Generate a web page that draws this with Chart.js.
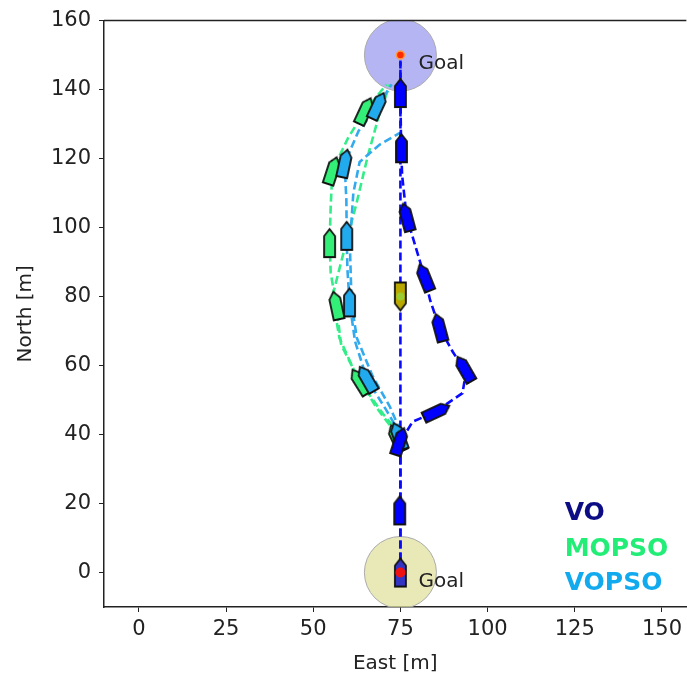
<!DOCTYPE html>
<html>
<head>
<meta charset="utf-8">
<script src="https://cdn.jsdelivr.net/npm/chart.js@4/dist/chart.umd.min.js"></script>
<style>
  html, body { margin: 0; padding: 0; background: #fff; }
  #wrap { width: 687px; height: 680px; }
</style>
</head>
<body>
<div id="wrap"><canvas id="c" width="687" height="680"></canvas></div>
<script>
// axis ticks
const xTicks = [0, 25, 50, 75, 100, 125, 150];
const yTicks = [0, 20, 40, 60, 80, 100, 120, 140, 160];

// goals [x, y]
const goalTop = [75, 150];
const goalBottom = [75, 0];

// trajectories [east, north]
const obstaclePath = [[75, 0], [75, 150]];
const voPath = [[75, 0], [75, 18], [75, 38], [78.5, 43.7], [85, 46.6], [92.8, 52], [93.8, 58],
  [90, 64], [86.2, 71], [83.5, 79], [82, 85.5], [78, 99], [76.8, 103], [75.5, 115], [75.2, 123], [75, 139], [75, 148]];
const mopsoPath = [[75, 40], [70, 46], [63.4, 55.3], [58, 66], [56.6, 77.4], [55, 87], [54.7, 95.5],
  [55, 106], [55.5, 116.5], [60, 126], [64.8, 133.8], [71, 141.5]];
const mopsoPath2 = [[74, 40], [68, 48], [62, 58], [57.5, 68], [55.5, 80], [58, 90], [62.4, 107],
  [65.6, 120.6], [69, 133], [72, 141.5]];
const vopsoPath = [[75, 40], [71, 47], [65.4, 56.1], [62, 67], [60.4, 78.3], [59.8, 88], [59.6, 97.6],
  [59.5, 108], [59, 118.6], [63, 128], [68.5, 135.3], [72.5, 141.5]];
const vopsoPath2 = [[75, 41], [72, 48], [67, 57], [62.5, 68], [61, 78], [60.5, 95], [61.5, 110],
  [63.3, 119], [69, 124], [75, 127.5]];

// ships [east, north, heading deg]
const voShips = [[75, 139, 0], [75.3, 123, 0], [76.8, 103, -15], [82, 85.5, -22], [86.2, 71, -15],
  [93.4, 59, -30], [85.4, 46.6, 65], [74.8, 38, 18], [74.8, 18, 0]];
const mopsoShips = [[64.8, 133.8, 25], [55.5, 116.5, 18], [54.7, 95.5, 0], [56.6, 77.4, -12],
  [63.4, 55.3, -32], [74, 39, -25]];
const vopsoShips = [[68.5, 135.3, 25], [59, 118.6, 12], [59.6, 97.6, 0], [60.4, 78.3, 0],
  [65.4, 56.1, -30], [74.5, 39.5, -20]];
const obstacleShip = [[75, 80, 180]];
const ownShip = [[75, 0, 0]];

// legend labels
const labels = ['VO', 'MOPSO', 'VOPSO'];
const labelColors = ['#0c0c84', '#22ee77', '#11aaee'];

function pts(a) { return a.map(p => ({x: p[0], y: p[1]})); }

function makeShip(fill) {
  const c = document.createElement('canvas');
  c.width = 15; c.height = 32;
  const g = c.getContext('2d');
  g.beginPath();
  g.moveTo(7.5, 2); g.lineTo(13, 9); g.lineTo(13, 30); g.lineTo(2, 30); g.lineTo(2, 9);
  g.closePath();
  g.fillStyle = fill; g.fill();
  g.lineWidth = 1.8; g.strokeStyle = '#111'; g.stroke();
  return c;
}

function pathSet(data, color, order) {
  return {
    data: pts(data), showLine: true, pointRadius: 0, borderColor: color,
    borderWidth: 2.6, borderDash: [8, 4], fill: false, order: order
  };
}

function shipSet(data, fill, order) {
  return {
    data: pts(data), pointStyle: makeShip(fill), pointRotation: data.map(p => p[2]),
    pointRadius: 10, showLine: false, order: order
  };
}

const overlay = {
  id: 'overlay',
  afterDatasetsDraw(chart) {
    const {ctx, chartArea: a, scales: {x, y}} = chart;
    ctx.save();
    ctx.strokeStyle = '#222';
    ctx.lineWidth = 1.5;
    ctx.beginPath();
    ctx.moveTo(a.left, a.top); ctx.lineTo(a.right, a.top);
    ctx.stroke();
    ctx.fillStyle = '#222';
    ctx.font = '20px "DejaVu Sans"';
    ctx.textBaseline = 'middle';
    ctx.fillText('Goal', x.getPixelForValue(80.2), y.getPixelForValue(147.6));
    ctx.fillText('Goal', x.getPixelForValue(80.2), y.getPixelForValue(-2.6));
    ctx.font = 'bold 25px "DejaVu Sans"';
    const ly = [17, 6.6, -3.2];
    labels.forEach((t, i) => {
      ctx.fillStyle = labelColors[i];
      ctx.fillText(t, x.getPixelForValue(122.1), y.getPixelForValue(ly[i]));
    });
    ctx.restore();
  }
};

Chart.defaults.font.family = '"DejaVu Sans", sans-serif';
Chart.defaults.color = '#222';

new Chart(document.getElementById('c'), {
  type: 'scatter',
  data: {
    datasets: [
      {data: pts([goalTop]), pointRadius: 4, backgroundColor: '#ff2a00', borderColor: '#ff9a40', borderWidth: 1.5, order: 0},
      {data: pts([goalBottom]), pointRadius: 5, backgroundColor: '#ee1111', borderWidth: 0, order: 0},
      {data: pts([[75, 80]]), pointRadius: 4, backgroundColor: '#99cc33', borderWidth: 0, order: 0},
      shipSet(voShips, '#0000ff', 1),
      shipSet(mopsoShips, '#33ee77', 2),
      shipSet(vopsoShips, '#22aaee', 1.5),
      shipSet(obstacleShip, '#b8a800', 1),
      shipSet(ownShip, '#3434c4', 1),
      pathSet(mopsoPath, '#33ee88', 6),
      pathSet(mopsoPath2, '#33ee88', 6),
      pathSet(vopsoPath, '#33aaee', 5),
      pathSet(vopsoPath2, '#33aaee', 5),
      pathSet(voPath, '#0a0aff', 4),
      pathSet(obstaclePath, '#0a0aff', 4),
      {data: pts([goalTop]), pointRadius: 36, backgroundColor: 'rgba(150,150,240,0.7)', borderColor: '#aaa', borderWidth: 1, order: 10},
      {data: pts([goalBottom]), pointRadius: 36, backgroundColor: 'rgba(225,225,160,0.75)', borderColor: '#aaa', borderWidth: 1, order: 10}
    ]
  },
  options: {
    responsive: false,
    animation: false,
    layout: {autoPadding: false, padding: {top: 13, right: 0, left: 0, bottom: 0}},
    plugins: {legend: {display: false}, tooltip: {enabled: false}},
    scales: {
      x: {
        type: 'linear', min: -10, max: 157,
        afterBuildTicks: s => { s.ticks = xTicks.map(v => ({value: v})); },
        afterFit: s => { s.height = 73; },
        grid: {drawOnChartArea: false, drawTicks: true, tickLength: 5, tickColor: '#222'},
        border: {color: '#222', width: 1.5},
        ticks: {font: {size: 21}, padding: 5, maxRotation: 0},
        title: {display: true, text: 'East [m]', font: {size: 20}, padding: {top: 0, bottom: 4}}
      },
      y: {
        type: 'linear', min: -10, max: 160,
        afterBuildTicks: s => { s.ticks = yTicks.map(v => ({value: v})); },
        afterFit: s => { s.width = 104; },
        grid: {drawOnChartArea: false, drawTicks: true, tickLength: 5, tickColor: '#222'},
        border: {color: '#222', width: 1.5},
        ticks: {font: {size: 21}, padding: 8},
        title: {display: true, text: 'North [m]', font: {size: 20}, padding: {top: 14, bottom: 0}}
      }
    }
  },
  plugins: [overlay]
});
</script>
</body>
</html>
